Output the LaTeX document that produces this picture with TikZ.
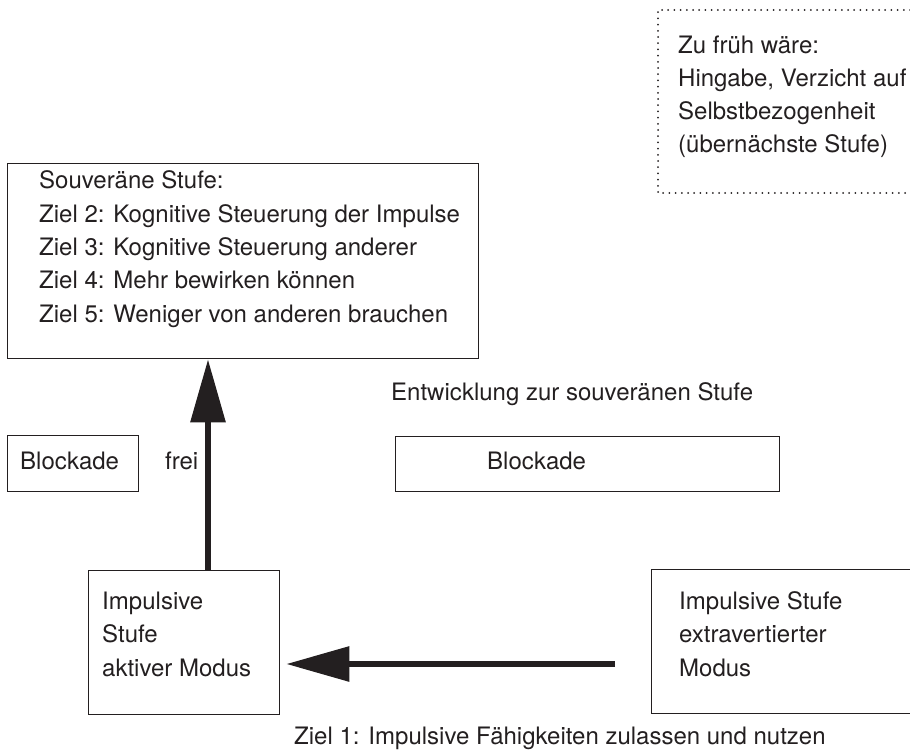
\documentclass[tikz,border=0pt]{standalone}
\usepackage{fontspec}
\setmainfont{TeX Gyre Heros}
\usetikzlibrary{arrows.meta}
\definecolor{ink}{RGB}{35,31,32}
\tikzset{
  box/.style={draw=ink, line width=1.3pt, rectangle, inner sep=0pt, anchor=north west},
  txt/.style={text=ink, inner sep=0pt, font=\fontsize{24}{33.3}\selectfont},
  bigarrow/.style={draw=ink, line width=6pt, -{Triangle[length=63pt,width=34pt]}, fill=ink},
  dotline/.style={draw=ink, line width=2pt, line cap=round, dash pattern=on 0pt off 6.2pt}
}
\begin{document}
\begin{tikzpicture}[x=1pt,y=-1pt]
\useasboundingbox (0,0) rectangle (910,751);
% dotted note
\draw[dotline] (910,10) -- (658,10) -- (658,193) -- (910,193);
\node[txt, anchor=base west, align=left] (note) at (678,153) {Zu früh wäre:\\Hingabe, Verzicht auf\\Selbstbezogenheit\\(übernächste Stufe)};
% sovereign stage box
\node[box, minimum width=471pt, minimum height=195pt] (souv) at (7,163) {};
\node[txt, anchor=base west, align=left] (souvt) at (39,322) {Souveräne Stufe:\\Ziel 2: Kognitive Steuerung der Impulse\\Ziel 3: Kognitive Steuerung anderer\\Ziel 4: Mehr bewirken können\\Ziel 5: Weniger von anderen brauchen};
% blockade left
\node[box, minimum width=131pt, minimum height=56pt] (blockL) at (7,435) {};
\node[txt, anchor=base west] (blockLt) at (20,469) {Blockade};
\node[txt, anchor=base west] (frei) at (165,469) {frei};
% development label
\node[txt, anchor=base west] (entw) at (391,400) {Entwicklung zur souveränen Stufe};
% blockade right
\node[box, minimum width=384pt, minimum height=55pt] (blockR) at (395,436) {};
\node[txt, anchor=base west] (blockRt) at (487,469) {Blockade};
% impulsive active
\node[box, minimum width=191pt, minimum height=144pt] (impA) at (88,570) {};
\node[txt, anchor=base west, align=left] (impAt) at (102,676) {Impulsive\\Stufe\\aktiver Modus};
% impulsive extraverted
\node[box, minimum width=270pt, minimum height=144pt] (impE) at (651,569) {};
\node[txt, anchor=base west, align=left] (impEt) at (679,676) {Impulsive Stufe\\extravertierter\\Modus};
% goal 1
\node[txt, anchor=base west] (ziel1) at (294,744) {Ziel 1: Impulsive Fähigkeiten zulassen und nutzen};
% arrows
\coordinate (ax) at (208,0);
\coordinate (ay) at (0,664);
\draw[bigarrow] (impA.north -| ax) -- (souv.south -| ax);
\draw[bigarrow, shorten <=36pt, shorten >=6pt] (impE.west |- ay) -- (impA.east |- ay);
\end{tikzpicture}
\end{document}
